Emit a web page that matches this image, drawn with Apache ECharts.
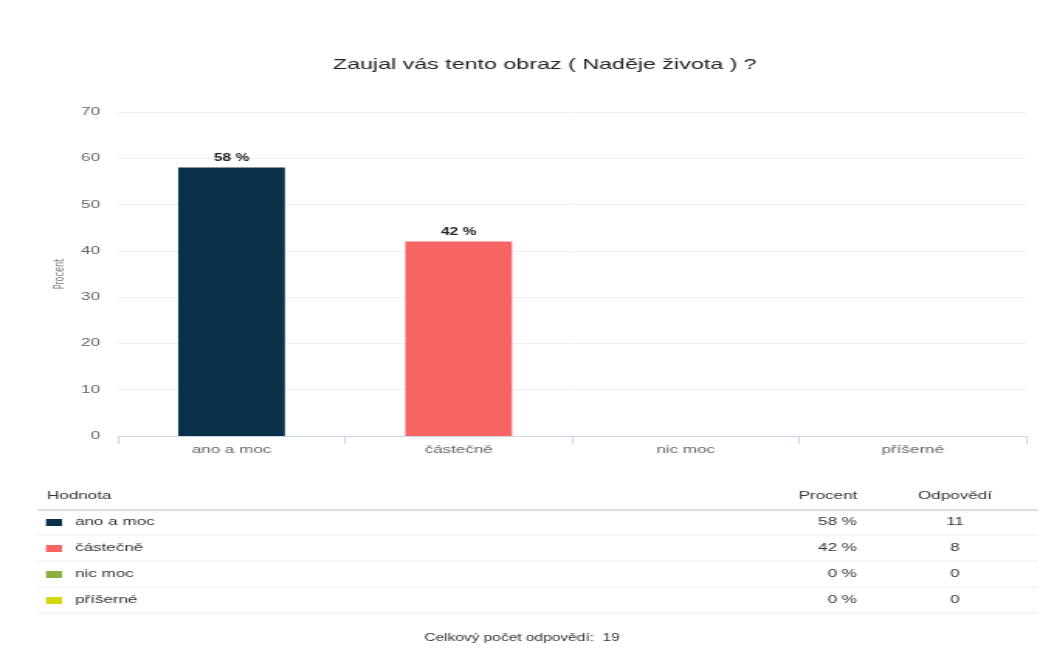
<!DOCTYPE html>
<html><head><meta charset="utf-8">
<script src="https://cdn.jsdelivr.net/npm/echarts@6/dist/echarts.min.js"></script>
<style>
html,body{margin:0;padding:0;background:#fff;overflow:hidden}
#wrap{width:1050px;height:659px;overflow:hidden}
#c{height:659px;transform-origin:0 0}
</style>
</head><body><div id="wrap"><div id="c"></div></div>
<script>
const title = 'Zaujal vás tento obraz ( Naděje života ) ?';
const categories = ['ano a moc', 'částečně', 'nic moc', 'příšerné'];
const percents = [58, 42, 0, 0];
const counts = [11, 8, 0, 0];
const colors = ['#0b3149', '#f66464', '#8bae3e', '#d6d60e'];
const yTicks = [0, 10, 20, 30, 40, 50, 60, 70];
const headers = ['Hodnota', 'Procent', 'Odpovědí'];
const totalLabel = 'Celkový počet odpovědí:';
const total = 19;

// the reference picture is stretched horizontally; draw narrower and stretch
const S = 1.55;
const W = 1050 / S;
const el = document.getElementById('c');
el.style.width = W + 'px';
el.style.transform = 'scaleX(' + S + ')';
const X = v => v / S;

const chart = echarts.init(el);
const font = 'Liberation Sans, Arial, sans-serif';
const g = [];
g.push({type:'text', x:X(47), y:496, style:{text:headers[0], font:'11px '+font, fill:'#333', verticalAlign:'middle'}});
g.push({type:'text', x:X(828), y:496, style:{text:headers[1], font:'11px '+font, fill:'#333', align:'center', verticalAlign:'middle'}});
g.push({type:'text', x:X(955), y:496, style:{text:headers[2], font:'11px '+font, fill:'#333', align:'center', verticalAlign:'middle'}});
g.push({type:'line', shape:{x1:X(38), y1:510, x2:X(1038), y2:510}, style:{stroke:'#ddd', lineWidth:2}});
categories.forEach((c, i) => {
  const y = 522 + i * 26;
  g.push({type:'rect', shape:{x:X(46), y:y-3, width:X(16), height:7}, style:{fill:colors[i]}});
  g.push({type:'text', x:X(75), y:y, style:{text:c, font:'11px '+font, fill:'#333', verticalAlign:'middle'}});
  g.push({type:'text', x:X(857), y:y, style:{text:percents[i] + ' %', font:'11px '+font, fill:'#333', align:'right', verticalAlign:'middle'}});
  g.push({type:'text', x:X(955), y:y, style:{text:String(counts[i]), font:'11px '+font, fill:'#333', align:'center', verticalAlign:'middle'}});
  g.push({type:'line', shape:{x1:X(38), y1:y+13, x2:X(1038), y2:y+13}, style:{stroke:'#eee', lineWidth:1}});
});
g.push({type:'text', x:X(522), y:638, style:{text:totalLabel + '  ' + total, font:'10px '+font, fill:'#333', align:'center', verticalAlign:'middle'}});

chart.setOption({
  backgroundColor:'#fff',
  animation:false,
  title:{text:title, left:X(537), textAlign:'center', top:52, textStyle:{fontFamily:font, fontSize:15, fontWeight:'normal', color:'#222'}},
  grid:{left:X(118), right:X(23), top:112, bottom:223, containLabel:false},
  xAxis:{type:'category', data:categories,
    axisLine:{lineStyle:{color:'#ccd6eb'}},
    axisTick:{show:true, length:8, lineStyle:{color:'#ccd6eb'}},
    axisLabel:{color:'#666', fontFamily:font, fontSize:11, margin:8}},
  yAxis:{type:'value', min:yTicks[0], max:yTicks[yTicks.length-1], interval:10,
    name:'Procent', nameLocation:'middle', nameGap:33, nameRotate:90, nameMoveOverlap:false,
    nameTextStyle:{color:'#777', fontFamily:'DejaVu Sans Condensed, Liberation Sans Narrow, sans-serif', fontSize:9},
    axisLine:{show:false}, axisTick:{show:false},
    axisLabel:{color:'#666', fontFamily:font, fontSize:11, margin:X(18)},
    splitLine:{lineStyle:{color:'#f0f0f0'}}},
  series:[{type:'bar', barWidth:'47%',
    data:percents.map((v, i) => ({value:v, itemStyle:{color:colors[i]}, label:{show:v > 0}})),
    label:{position:'top', formatter:'{c} %', color:'#222', fontWeight:'bold', fontSize:10, fontFamily:font, distance:4}}],
  graphic:g
});
</script></body></html>
